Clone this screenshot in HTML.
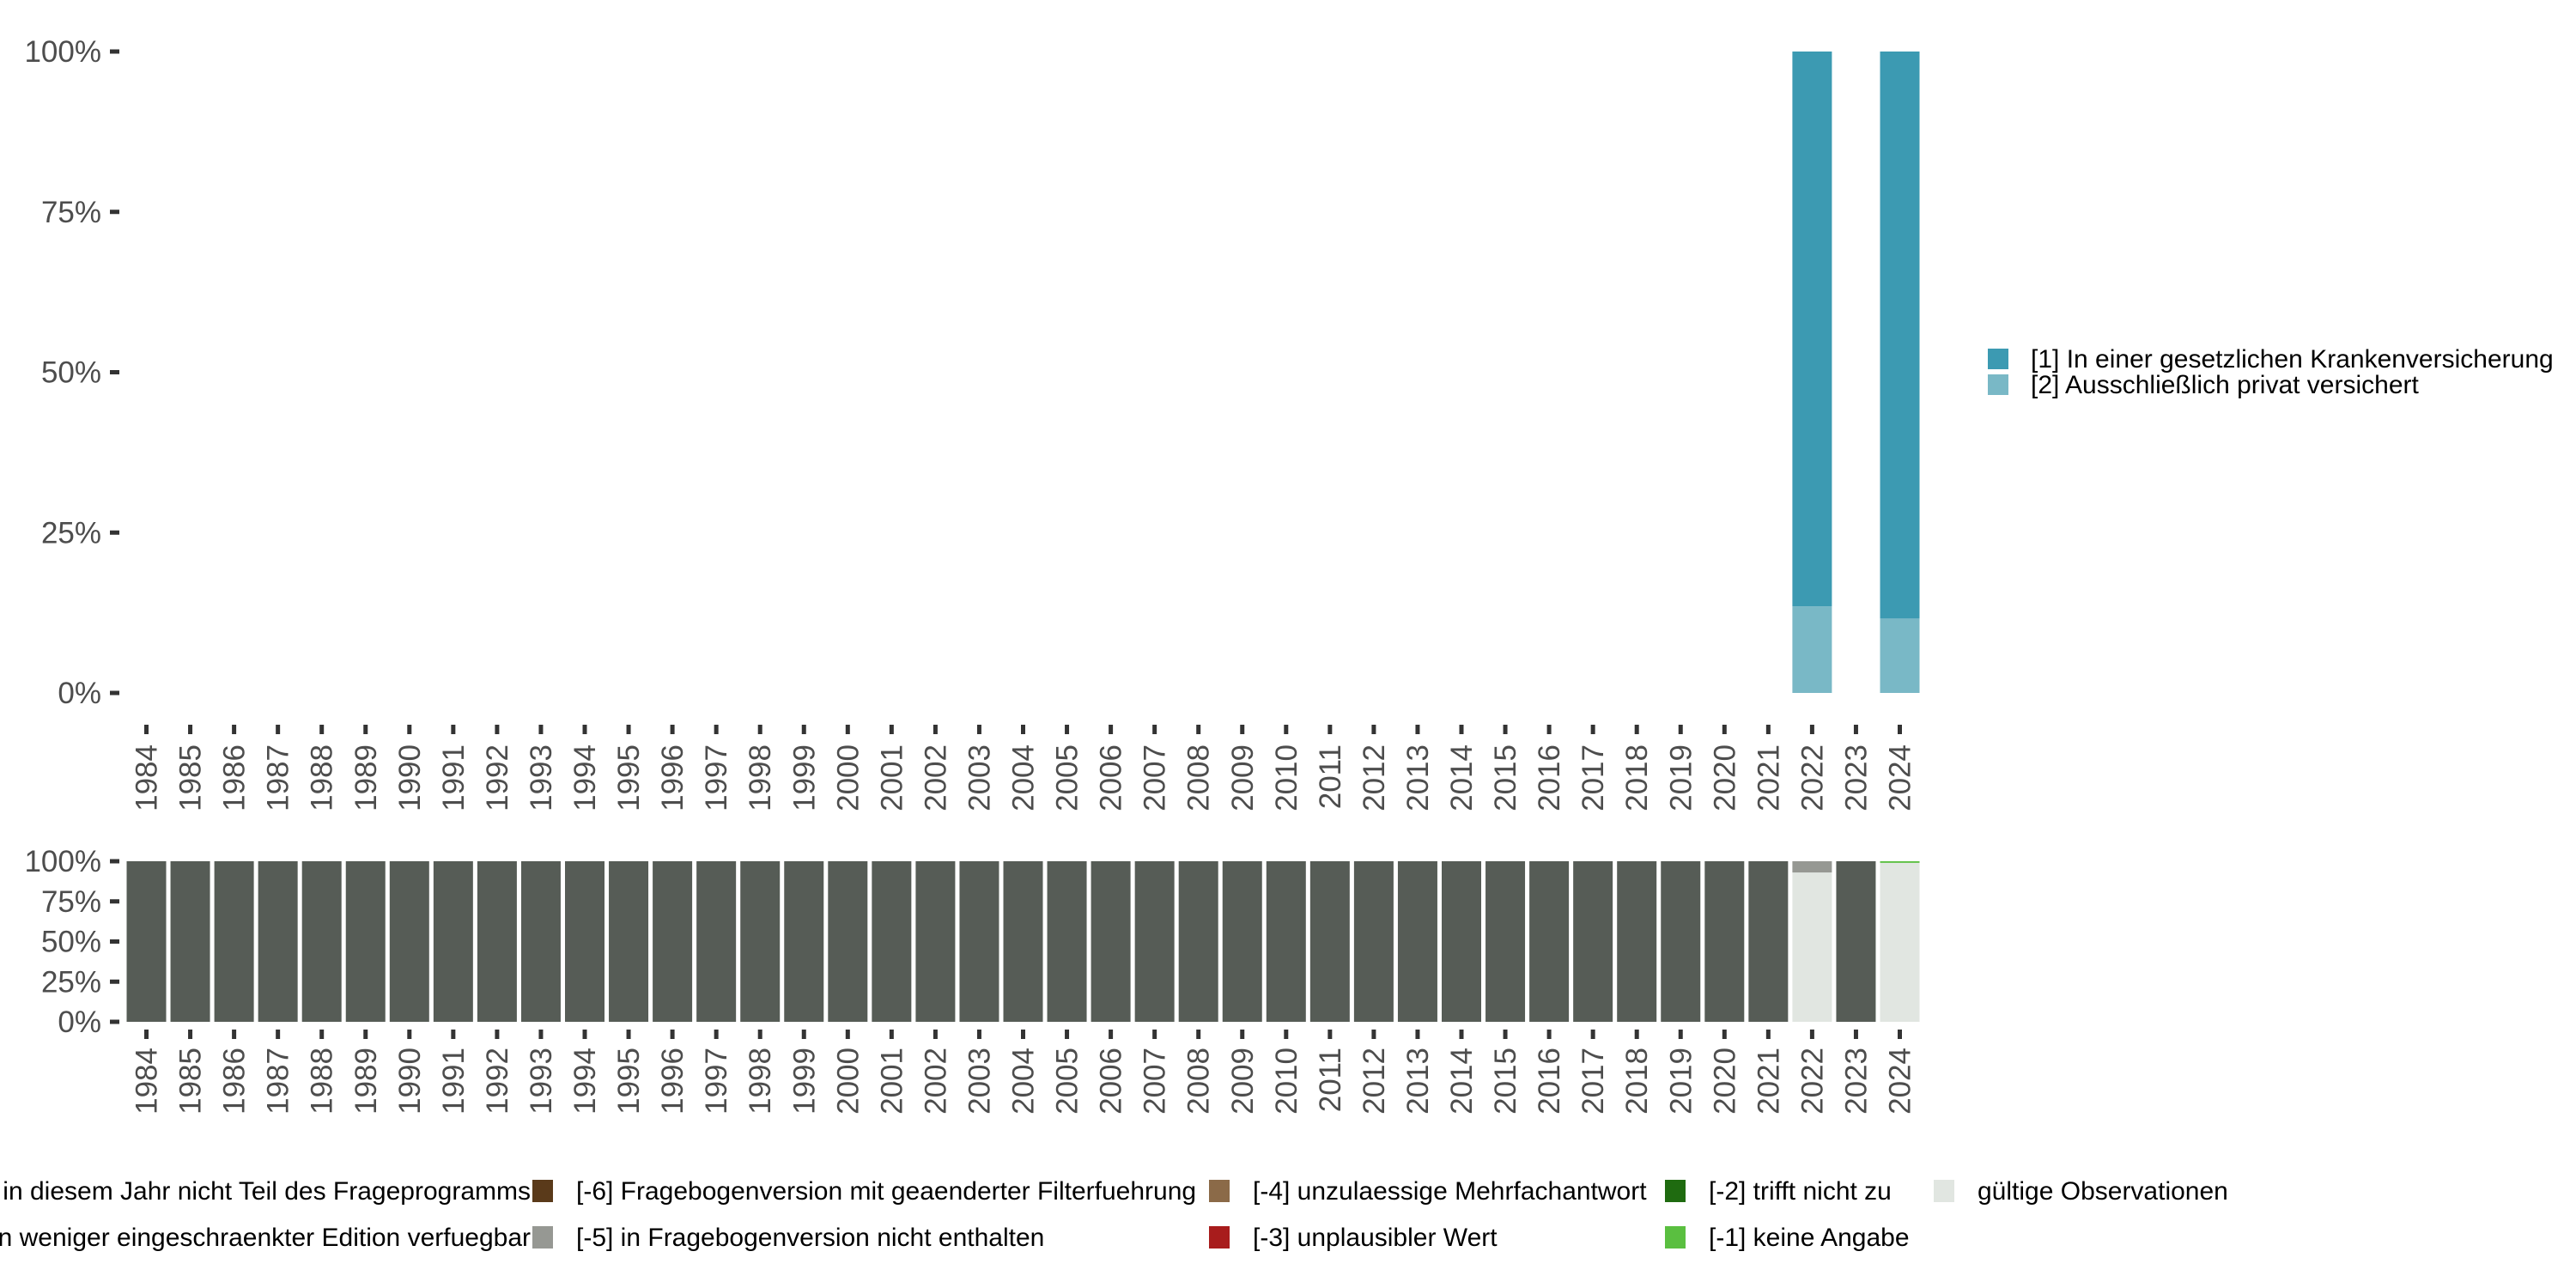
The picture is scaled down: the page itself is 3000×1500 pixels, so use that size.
<!DOCTYPE html>
<html><head><meta charset="utf-8"><style>
html,body{margin:0;padding:0;background:#fff;}
svg{display:block;font-family:"Liberation Sans",sans-serif;}
</style></head><body>
<svg id="chart" width="3000" height="1500" viewBox="0 0 3000 1500"></svg>
<script>
const years = [];
for (let y = 1984; y <= 2024; y++) years.push(y);
const topCats = ["[1] In einer gesetzlichen Krankenversicherung", "[2] Ausschließlich privat versichert"];
const topColors = ["#3c9ab2", "#79b8c6"];
const topYears = [2022, 2024];
const topSeries1 = [86.5, 88.4];
const topSeries2 = [13.5, 11.6];
const yTicks = [0, 25, 50, 75, 100];
const yTickLabels = ["0%", "25%", "50%", "75%", "100%"];
const botCats = ["[-8] Frage in diesem Jahr nicht Teil des Frageprogramms","[-7] Nur in weniger eingeschraenkter Edition verfuegbar","[-6] Fragebogenversion mit geaenderter Filterfuehrung","[-5] in Fragebogenversion nicht enthalten","[-4] unzulaessige Mehrfachantwort","[-3] unplausibler Wert","[-2] trifft nicht zu","[-1] keine Angabe","gültige Observationen"];
const botColors = ["#565c56","#7a7f7a","#5a3a1a","#969893","#8b6a48","#a81c1c","#1f6b10","#5abf40","#e1e6e1"];
const botValid = years.map(y => y === 2022 ? 93 : (y === 2024 ? 99 : 0));
const botMissing5 = years.map(y => y === 2022 ? 7 : 0);
const botMissing1 = years.map(y => y === 2024 ? 1 : 0);
const botNotAsked = years.map((y, i) => 100 - botValid[i] - botMissing5[i] - botMissing1[i]);

const svg = document.getElementById('chart');
const NS = 'http://www.w3.org/2000/svg';
function mk(tag, attrs, parent) {
  const e = document.createElementNS(NS, tag);
  for (const k in attrs) e.setAttribute(k, attrs[k]);
  (parent || svg).appendChild(e);
  return e;
}
const xc = y => 170.5 + (y - 1984) * 51.05;
const yTop = v => 807 - v / 100 * 747;
const yBot = v => 1190 - v / 100 * 187;

function axes(yf, tickY0, labelY, prefix) {
  const g = mk('g', {});
  
  
  yTicks.forEach((t, i) => {
    const ln = mk('line', {x1: 128, x2: 139, y1: yf(t), y2: yf(t), stroke: '#333', 'stroke-width': 5}, g);
    
    
    const tx = mk('text', {x: 118, y: yf(t) + 12, 'text-anchor': 'end', 'font-size': 35, fill: '#4d4d4d'}, g);
    tx.textContent = yTickLabels[i];
    
    
  });
  years.forEach(y => {
    const ln = mk('line', {x1: xc(y), x2: xc(y), y1: tickY0, y2: tickY0 + 11, stroke: '#333', 'stroke-width': 5}, g);
    
    
    const tx = mk('text', {x: 0, y: 0, 'text-anchor': 'end', 'font-size': 35, fill: '#4d4d4d', transform: `translate(${xc(y) + 12},${labelY}) rotate(-90)`}, g);
    tx.textContent = y;
    
    
  });
}

topYears.forEach((y, i) => {
  const r2 = mk('rect', {x: xc(y) - 23, y: yTop(topSeries2[i]), width: 46, height: yTop(0) - yTop(topSeries2[i]), fill: topColors[1]});
  
  
  const r1 = mk('rect', {x: xc(y) - 23, y: yTop(topSeries2[i] + topSeries1[i]), width: 46, height: yTop(topSeries2[i]) - yTop(topSeries2[i] + topSeries1[i]), fill: topColors[0]});
  
  
});
axes(yTop, 844, 867, 'top');

topCats.forEach((c, i) => {
  const r = mk('rect', {x: 2315, y: 406 + i * 30, width: 24, height: 24, fill: topColors[i]});
  
  
  const t = mk('text', {x: 2365, y: 428 + i * 30, 'font-size': 30, fill: '#000'});
  t.textContent = c;
  
  
});

years.forEach((y, i) => {
  const parts = [[botValid[i], 8], [botMissing1[i], 7], [botMissing5[i], 3], [botNotAsked[i], 0]];
  let acc = 0;
  parts.forEach(([v, ci]) => {
    if (v <= 0) return;
    const r = mk('rect', {x: xc(y) - 23, y: yBot(acc + v), width: 46, height: yBot(acc) - yBot(acc + v), fill: botColors[ci]});
    
    
    acc += v;
  });
});
axes(yBot, 1199, 1220, 'bottom');

const colX = [null, 620, 1408, 1939, 2252];
const legendItems = [
  [0, 0, 0], [1, 0, 1],
  [2, 1, 0], [3, 1, 1],
  [4, 2, 0], [5, 2, 1],
  [6, 3, 0], [7, 3, 1],
  [8, 4, 0]
];
legendItems.forEach(([ci, col, row]) => {
  const cy = 1387 + row * 54;
  if (col === 0) {
    const t = mk('text', {x: 618, y: cy + 10, 'text-anchor': 'end', 'font-size': 30, fill: '#000'});
    t.textContent = botCats[ci];
    
    
    return;
  }
  const r = mk('rect', {x: colX[col], y: cy - 13, width: 24, height: 26, fill: botColors[ci]});
  
  
  const t = mk('text', {x: colX[col] + 51, y: cy + 10, 'font-size': 30, fill: '#000'});
  t.textContent = botCats[ci];
  
  
});
</script>
</body></html>
